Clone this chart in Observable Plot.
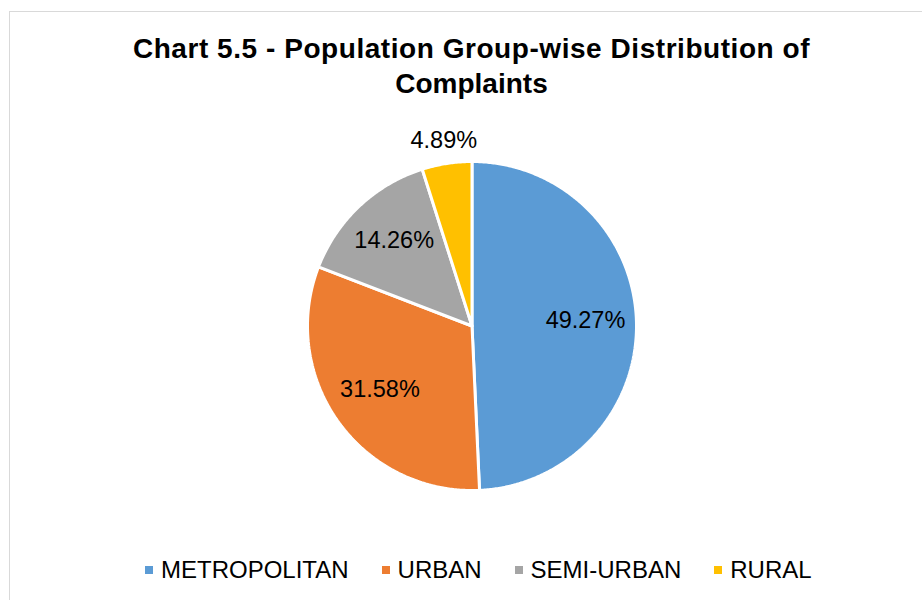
<!DOCTYPE html>
<html>
<head>
<meta charset="utf-8">
<script src="https://cdn.jsdelivr.net/npm/d3@7"></script>
<script src="https://cdn.jsdelivr.net/npm/@observablehq/plot@0.6"></script>
<style>
  html, body { margin: 0; padding: 0; background: #fff; }
  #page { position: relative; width: 922px; height: 600px; overflow: hidden; font-family: "Liberation Sans", Arial, sans-serif; }
  #frame { position: absolute; left: 9px; top: 11px; width: 1000px; height: 1000px; border: 1px solid #d9d9d9; box-sizing: border-box; }
  #title { position: absolute; left: 9px; width: 925px; top: 31px; text-align: center; font-weight: bold; font-size: 28px; line-height: 35px; color: #000; }
  #title .l1 { letter-spacing: 0.55px; }
  #chart { position: absolute; left: 0; top: 110px; }
  #legend { position: absolute; left: 145px; top: 556px; display: flex; align-items: center; font-size: 24px; line-height: 28px; color: #000; white-space: nowrap; }
  .item { display: flex; align-items: center; margin-right: 33px; }
  .sw { width: 8px; height: 8px; margin-right: 8px; }
</style>
</head>
<body>
<div id="page">
  <div id="frame"></div>
  <div id="title"><span class="l1">Chart 5.5 - Population Group-wise Distribution of</span><br>Complaints</div>
  <div id="chart"></div>
  <div id="legend"></div>
</div>
<script>
const categories = ["METROPOLITAN", "URBAN", "SEMI-URBAN", "RURAL"];
const shares = [49.27, 31.58, 14.26, 4.89];
const labels = ["49.27%", "31.58%", "14.26%", "4.89%"];
const colors = ["#5B9BD5", "#ED7D31", "#A5A5A5", "#FFC000"];

const total = d3.sum(shares);
const arcs = d3.pie().sort(null).value(d => d)(shares);

// slice outlines (unit circle, angle clockwise from 12 o'clock)
const poly = [];
arcs.forEach((a, i) => {
  const name = categories[i];
  poly.push({name, x: 0, y: 0});
  const n = Math.max(2, Math.ceil((a.endAngle - a.startAngle) / (Math.PI / 360)));
  for (let k = 0; k <= n; k++) {
    const t = a.startAngle + (a.endAngle - a.startAngle) * k / n;
    poly.push({name, x: Math.sin(t), y: Math.cos(t)});
  }
  poly.push({name, x: 0, y: 0});
});

const labelPts = arcs.map((a, i) => {
  const mid = (a.startAngle + a.endAngle) / 2;
  const r = shares[i] / total < 0.06 ? 1.12 : 0.69;
  return {label: labels[i], x: r * Math.sin(mid), y: r * Math.cos(mid)};
});

const plot = Plot.plot({
  width: 922,
  height: 430,
  marginLeft: 307,
  marginRight: 286,
  marginTop: 51,
  marginBottom: 50,
  x: {domain: [-1, 1], axis: null},
  y: {domain: [-1, 1], axis: null},
  color: {domain: categories, range: colors},
  style: {fontFamily: "Liberation Sans, Arial, sans-serif", background: "transparent", overflow: "visible"},
  marks: [
    Plot.line(poly, {x: "x", y: "y", z: "name", fill: "name", stroke: "white", strokeWidth: 3, strokeLinejoin: "miter", curve: "linear"}),
    Plot.text(labelPts, {x: "x", y: "y", text: "label", fontSize: 23.5, fill: "#000", textAnchor: "middle", lineAnchor: "middle", dy: -3})
  ]
});
document.getElementById("chart").appendChild(plot);

const legend = document.getElementById("legend");
categories.forEach((c, i) => {
  const item = document.createElement("div");
  item.className = "item";
  const sw = document.createElement("div");
  sw.className = "sw";
  sw.style.background = colors[i];
  const tx = document.createElement("span");
  tx.textContent = c;
  item.appendChild(sw);
  item.appendChild(tx);
  legend.appendChild(item);
});
</script>
</body>
</html>
